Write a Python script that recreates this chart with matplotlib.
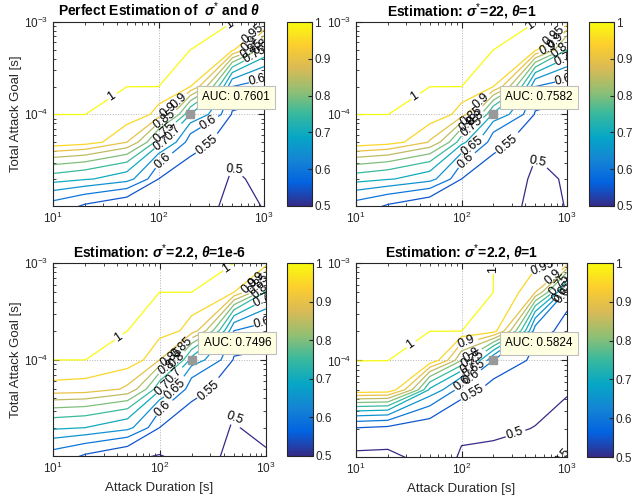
import matplotlib
matplotlib.use("Agg")
import matplotlib.pyplot as plt
from matplotlib.colors import LinearSegmentedColormap, Normalize
from matplotlib.cm import ScalarMappable

plt.rcParams["font.family"] = ["Liberation Sans", "DejaVu Sans"]
plt.rcParams["mathtext.fontset"] = "custom"
plt.rcParams["mathtext.rm"] = "Liberation Sans"
plt.rcParams["mathtext.it"] = "Liberation Sans:italic"
plt.rcParams["mathtext.bf"] = "Liberation Sans:bold"
plt.rcParams["mathtext.bfit"] = "Liberation Sans:bold:italic"

# grid of the sweep
duration = [10, 20, 50, 100, 200, 500, 1000]          # attack duration [s]
goal = [1e-5, 2e-5, 5e-5, 1e-4, 2e-4, 5e-4, 1e-3]     # total attack goal [s]
levels = [0.5, 0.55, 0.6, 0.65, 0.7, 0.75, 0.8, 0.85, 0.9, 0.95, 1.0]

# AUC, rows = goal (low -> high), columns = duration
auc_perfect = [
    [0.576, 0.539, 0.505, 0.51, 0.52, 0.485, 0.502],
    [0.724, 0.705, 0.67, 0.55, 0.53, 0.495, 0.51],
    [0.99, 0.973, 0.90, 0.72, 0.57, 0.52, 0.53],
    [1.0, 1.0, 0.99, 0.93, 0.70, 0.545, 0.535],
    [1.0, 1.0, 1.0, 1.0, 0.95, 0.60, 0.575],
    [1.0, 1.0, 1.0, 1.0, 1.0, 0.96, 0.75],
    [1.0, 1.0, 1.0, 1.0, 1.0, 1.0, 0.985],
]
auc_s22_t1 = [
    [0.575, 0.54, 0.505, 0.51, 0.52, 0.485, 0.502],
    [0.722, 0.704, 0.668, 0.55, 0.53, 0.49, 0.505],
    [0.99, 0.972, 0.895, 0.715, 0.565, 0.515, 0.53],
    [1.0, 1.0, 0.99, 0.925, 0.69, 0.545, 0.535],
    [1.0, 1.0, 1.0, 1.0, 0.95, 0.60, 0.575],
    [1.0, 1.0, 1.0, 1.0, 1.0, 0.96, 0.75],
    [1.0, 1.0, 1.0, 1.0, 1.0, 1.0, 0.985],
]
auc_s22_t1e6 = [
    [0.575, 0.54, 0.505, 0.497, 0.52, 0.485, 0.49],
    [0.71, 0.70, 0.665, 0.55, 0.53, 0.495, 0.53],
    [0.935, 0.93, 0.89, 0.71, 0.565, 0.52, 0.535],
    [1.0, 1.0, 0.985, 0.90, 0.68, 0.545, 0.54],
    [1.0, 1.0, 1.0, 0.975, 0.93, 0.60, 0.575],
    [1.0, 1.0, 1.0, 1.0, 1.0, 0.95, 0.74],
    [1.0, 1.0, 1.0, 1.0, 1.0, 1.0, 0.98],
]
auc_s22b_t1 = [
    [0.49, 0.49, 0.52, 0.495, 0.495, 0.49, 0.503],
    [0.545, 0.535, 0.52, 0.51, 0.505, 0.499, 0.485],
    [0.996, 0.99, 0.69, 0.57, 0.53, 0.52, 0.505],
    [1.0, 1.0, 0.99, 0.80, 0.60, 0.53, 0.52],
    [1.0, 1.0, 1.0, 1.0, 0.97, 0.57, 0.53],
    [1.0, 1.0, 1.0, 1.0, 1.0, 0.90, 0.58],
    [1.0, 1.0, 1.0, 1.0, 1.0, 0.97, 0.94],
]

titles = [
    r"Perfect Estimation of  $\mathbfit{\sigma}^{*}$ and $\mathbfit{\theta}$",
    r"Estimation: $\mathbfit{\sigma}^{*}$=22, $\mathbfit{\theta}$=1",
    r"Estimation: $\mathbfit{\sigma}^{*}$=2.2, $\mathbfit{\theta}$=1e-6",
    r"Estimation: $\mathbfit{\sigma}^{*}$=2.2, $\mathbfit{\theta}$=1",
]
grids = [auc_perfect, auc_s22_t1, auc_s22_t1e6, auc_s22b_t1]
tip_auc = [0.7601, 0.7582, 0.7496, 0.5824]
tip_x, tip_y = 200, 1e-4

# where the contour labels were placed (duration, goal)
label_spots = [
    [(36, 1.55e-4), (470, 9.3e-4), (158, 1.36e-4), (114, 9.0e-5), (132, 1.03e-4),
     (109, 6.7e-5), (127, 7.0e-5), (109, 4.6e-5), (291, 8.6e-5), (109, 3.15e-5),
     (291, 4.5e-5), (547, 2.7e-5), (800, 7.3e-4), (720, 6e-4), (760, 5e-4),
     (830, 4.3e-4), (900, 5.5e-4), (870, 2.35e-4)],
    [(36, 1.55e-4), (449, 9.3e-4), (151, 1.42e-4), (120, 1.0e-4), (135, 9e-5),
     (115, 7.5e-5), (130, 7e-5), (126, 4.6e-5), (113, 3.0e-5), (290, 4.2e-5),
     (520, 3.0e-5), (929, 2.35e-4), (750, 7e-4), (800, 6e-4), (850, 5e-4),
     (900, 4.2e-4), (700, 5.5e-4)],
    [(41, 1.69e-4), (422, 8.85e-4), (160, 1.38e-4), (130, 1.05e-4), (145, 1.0e-4),
     (120, 8e-5), (135, 7e-5), (110, 5e-5), (143, 4.8e-5), (107, 3.2e-5),
     (295, 4.6e-5), (542, 2.6e-5), (800, 7e-4), (850, 6e-4), (900, 5e-4),
     (930, 4e-4), (930, 2.33e-4), (750, 5.5e-4)],
    [(33, 1.43e-4), (200, 8.6e-4), (109, 1.61e-4), (601, 8.2e-4), (120, 1.2e-4),
     (130, 1.0e-4), (115, 9e-5), (135, 8e-5), (120, 7e-5), (125, 6e-5),
     (130, 4.5e-5), (336, 1.49e-5), (865, 1.07e-5), (750, 7e-4), (850, 6e-4),
     (900, 5e-4), (950, 4.5e-4)],
]

# parula (MATLAB) approximation
parula = LinearSegmentedColormap.from_list("parula", [
    (0.2081, 0.1663, 0.5292), (0.0117, 0.3875, 0.8820),
    (0.0793, 0.5200, 0.8312), (0.0228, 0.6535, 0.7768),
    (0.2178, 0.7250, 0.6193), (0.5709, 0.7485, 0.4494),
    (0.8507, 0.7299, 0.3360), (0.9880, 0.8066, 0.1794),
    (0.9763, 0.9831, 0.0538)])
norm = Normalize(0.5, 1.0)
# the 1.0 line sits on the plateau edge, draw it just below
clevels = levels[:-1] + [0.9999]

W, H = 633, 504
# pixel boxes (left, top, right, bottom): axes, colorbar
boxes = [
    ((53, 22, 264, 206), (287, 22, 312, 206)),
    ((356, 22, 567, 206), (589, 22, 614, 206)),
    ((53, 263, 266, 456), (287, 263, 313, 456)),
    ((356, 263, 567, 457), (587, 263, 613, 457)),
]

def rect(b):
    l, t, r, btm = b
    return [l / W, 1 - btm / H, (r - l) / W, (btm - t) / H]

def level_text(v):
    return f"{round(v, 2):g}"

fig = plt.figure(figsize=(W / 100, H / 100), dpi=100)
dark = "#262626"

for i, (Z, title) in enumerate(zip(grids, titles)):
    ax = fig.add_axes(rect(boxes[i][0]))
    ax.set_xscale("log")
    ax.set_yscale("log")
    ax.set_xlim(10, 1000)
    ax.set_ylim(1.02e-5, 1e-3)
    ax.grid(True, which="major", ls=":", color="0.7", lw=0.7)
    ax.set_axisbelow(True)
    cs = ax.contour(duration, goal, Z, levels=clevels, cmap=parula, norm=norm,
                    linewidths=0.9)
    ax.clabel(cs, fmt=level_text, fontsize=9, colors="k", inline=True,
              inline_spacing=2, manual=label_spots[i])
    ax.plot(tip_x, tip_y, "s", color="0.6", ms=5.5, zorder=5)
    ax.annotate(f"AUC: {tip_auc[i]:.4f}", xy=(tip_x, tip_y), xytext=(12, 11),
                textcoords="offset pixels", ha="left", va="bottom", fontsize=8.5,
                color="k", annotation_clip=False, zorder=6,
                bbox=dict(boxstyle="square,pad=0.45", fc="#ffffe1", ec="0.75", lw=0.8))
    ax.set_xlim(10, 1000)
    ax.set_ylim(1.02e-5, 1e-3)
    ax.tick_params(which="both", direction="in", top=True, right=True,
                   labelsize=8.5, colors=dark, labelcolor=dark)
    ax.tick_params(which="major", length=4)
    ax.tick_params(which="minor", length=2)
    for s in ax.spines.values():
        s.set_color(dark)
        s.set_linewidth(0.8)
    ax.set_title(title, fontsize=10, fontweight="bold", pad=4)
    if i % 2 == 0:
        ax.set_ylabel("Total Attack Goal [s]", fontsize=9.5, color=dark, labelpad=1)
    if i >= 2:
        ax.set_xlabel("Attack Duration [s]", fontsize=9.5, color=dark)

    cax = fig.add_axes(rect(boxes[i][1]))
    cb = fig.colorbar(ScalarMappable(norm=norm, cmap=parula), cax=cax,
                      ticks=[0.5, 0.6, 0.7, 0.8, 0.9, 1.0], format="%g")
    cb.outline.set_edgecolor(dark)
    cb.outline.set_linewidth(0.8)
    cax.tick_params(direction="in", length=3, pad=1.5, labelsize=8.5, colors=dark)

fig.savefig("out.png", dpi=100)
